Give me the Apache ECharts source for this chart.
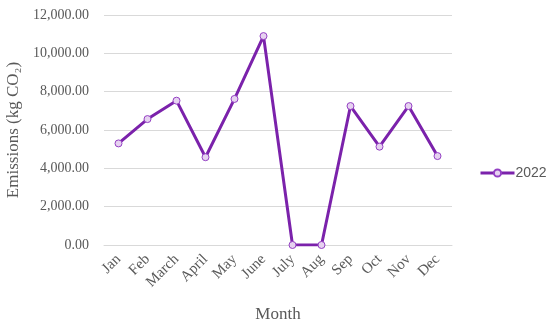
<!DOCTYPE html>
<html>
<head>
<meta charset="utf-8">
<script src="https://cdn.jsdelivr.net/npm/echarts@6/dist/echarts.min.js"></script>
<style>html,body{margin:0;padding:0;background:#fff}#c{width:550px;height:326px}</style>
</head>
<body>
<div id="c"></div>
<script>
var months = ['Jan','Feb','March','April','May','June','July','Aug','Sep','Oct','Nov','Dec'];
var series2022 = [5300, 6570, 7530, 4580, 7620, 10900, 0, 0, 7250, 5130, 7250, 4640];
var seriesName = '2022';

var chart = echarts.init(document.getElementById('c'), null, {renderer: 'canvas'});
var serif = '"Liberation Serif", "DejaVu Serif", serif';
chart.setOption({
  animation: false,
  backgroundColor: '#ffffff',
  grid: {left: 104, right: 98, top: 15, bottom: 81, containLabel: false, outerBoundsMode: 'none'},
  legend: {
    data: [seriesName],
    left: 474, top: 161, orient: 'vertical',
    itemWidth: 34, itemHeight: 9, itemGap: 4,
    lineStyle: {width: 3},
    textStyle: {fontFamily: '"Liberation Sans", "Open Sans", sans-serif', fontSize: 14, color: '#595959', padding: [0,0,0,-4]}
  },
  xAxis: {
    type: 'category',
    data: months,
    boundaryGap: true,
    name: 'Month',
    nameLocation: 'middle',
    nameGap: 61,
    nameTextStyle: {fontFamily: serif, fontSize: 17, color: '#595959'},
    axisLine: {show: true, lineStyle: {color: '#d9d9d9', width: 1}},
    axisTick: {show: false},
    axisLabel: {rotate: 45, fontFamily: serif, fontSize: 15, color: '#595959', margin: 12, interval: 0}
  },
  yAxis: {
    type: 'value',
    min: 0, max: 12000, interval: 2000,
    name: 'Emissions (kg CO\u2082)',
    nameLocation: 'middle',
    nameGap: 71,
    nameRotate: 90,
    nameTextStyle: {fontFamily: serif, fontSize: 17, color: '#595959'},
    axisLine: {show: false},
    axisTick: {show: false},
    splitLine: {lineStyle: {color: '#d9d9d9', width: 1}},
    axisLabel: {
      fontFamily: serif, fontSize: 14, color: '#595959', margin: 15,
      formatter: function (v) { return v.toLocaleString('en-US', {minimumFractionDigits: 2, maximumFractionDigits: 2}); }
    }
  },
  series: [{
    name: seriesName,
    type: 'line',
    data: series2022,
    symbol: 'circle',
    symbolSize: 7,
    lineStyle: {color: '#7B22AB', width: 3},
    itemStyle: {color: '#e6d2f0', borderColor: '#9440c4', borderWidth: 1},
    z: 3
  }]
});
</script>
</body>
</html>
